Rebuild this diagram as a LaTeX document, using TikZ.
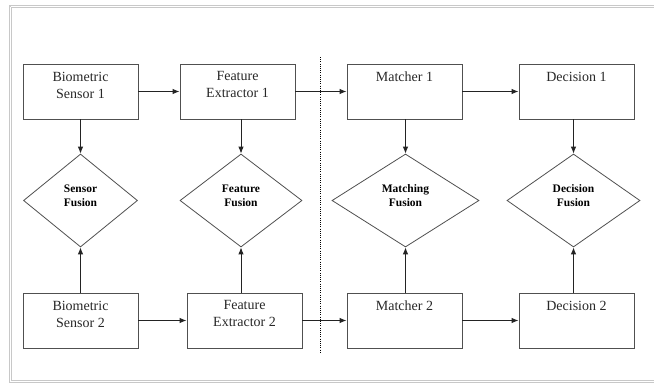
\documentclass[tikz,border=0pt]{standalone}
\usepackage{fontspec}
\setmainfont{Liberation Serif}
\usetikzlibrary{shapes.geometric,arrows.meta}
\definecolor{linegray}{RGB}{80,80,80}
\definecolor{conngray}{RGB}{35,35,35}
\definecolor{textgray}{RGB}{40,40,40}
\definecolor{framegray}{RGB}{200,200,200}
\tikzset{
  box/.style={draw=linegray, line width=0.9pt, rectangle, minimum width=115pt, minimum height=55pt, inner sep=0pt},
  boxtext/.style={anchor=north, inner sep=0pt, align=center, text=textgray, font=\fontsize{14}{17}\selectfont, yshift=-8pt},
  fusion/.style={draw=linegray, line width=0.8pt, diamond, inner sep=0pt, minimum height=93pt},
  fusiontext/.style={inner sep=0pt, align=center, text=black, font=\fontsize{11.5}{14}\selectfont\bfseries, yshift=5pt},
  conn/.style={draw=conngray, line width=0.9pt, -{Latex[length=7pt,width=5.5pt]}},
}
\begin{document}
\begin{tikzpicture}[x=1pt,y=-1pt]
\useasboundingbox (0,0) rectangle (654,383);
\fill[white] (0,0) rectangle (654,383);
% frame
\draw[framegray, line width=3pt] (10.5,6.5) -- (10.5,381) -- (670,381);
\draw[framegray, line width=3pt] (10.5,381) -- (10.5,6.5) -- (670,6.5);
\draw[white, line width=0.7pt] (10.5,6.5) -- (10.5,381) -- (670,381);
\draw[white, line width=0.7pt] (10.5,6.5) -- (670,6.5);

% top row
\node[box, label={[boxtext]90:{Biometric\\Sensor 1}}] (bs1) at (80.5,91.5) {};
\node[box, label={[boxtext]90:{Feature\\Extractor 1}}] (fe1) at (237.5,91.5) {};
\node[box, label={[boxtext]90:{Matcher 1}}] (m1) at (404.5,91.5) {};
\node[box, label={[boxtext]90:{Decision 1}}] (d1) at (576.5,91.5) {};

% bottom row
\node[box, label={[boxtext]90:{Biometric\\Sensor 2}}] (bs2) at (80.5,320.5) {};
\node[box, label={[boxtext]90:{Feature\\Extractor 2}}] (fe2) at (244.5,320.5) {};
\node[box, label={[boxtext]90:{Matcher 2}}] (m2) at (404.5,320.5) {};
\node[box, label={[boxtext]90:{Decision 2}}] (d2) at (576.5,320.5) {};

% fusion diamonds
\node[fusion, minimum width=114pt, label={[fusiontext]center:{Sensor\\Fusion}}] (sf) at (80.5,200.5) {};
\node[fusion, minimum width=122pt, label={[fusiontext]center:{Feature\\Fusion}}] (ff) at (241,200.5) {};
\node[fusion, minimum width=147pt, label={[fusiontext]center:{Matching\\Fusion}}] (mf) at (405.5,200.5) {};
\node[fusion, minimum width=133pt, label={[fusiontext]center:{Decision\\Fusion}}] (df) at (573.5,200.5) {};

% dotted divider
\coordinate (dtop) at (320,57);
\coordinate (dbot) at (320,353);
\draw[black, line width=1pt, dash pattern=on 1pt off 1.2pt] (dtop) -- (dbot);

% horizontal connectors
\draw[conn] (bs1) -- (fe1);
\draw[conn] (fe1) -- (m1);
\draw[conn] (m1) -- (d1);
\draw[conn] (bs2) -- (fe2);
\draw[conn] (fe2) -- (m2);
\draw[conn] (m2) -- (d2);

% vertical connectors
\draw[conn] (sf.north |- bs1.south) -- (sf.north);
\draw[conn] (ff.north |- fe1.south) -- (ff.north);
\draw[conn] (mf.north |- m1.south) -- (mf.north);
\draw[conn] (df.north |- d1.south) -- (df.north);
\draw[conn] (sf.south |- bs2.north) -- (sf.south);
\draw[conn] (ff.south |- fe2.north) -- (ff.south);
\draw[conn] (mf.south |- m2.north) -- (mf.south);
\draw[conn] (df.south |- d2.north) -- (df.south);
\end{tikzpicture}
\end{document}
